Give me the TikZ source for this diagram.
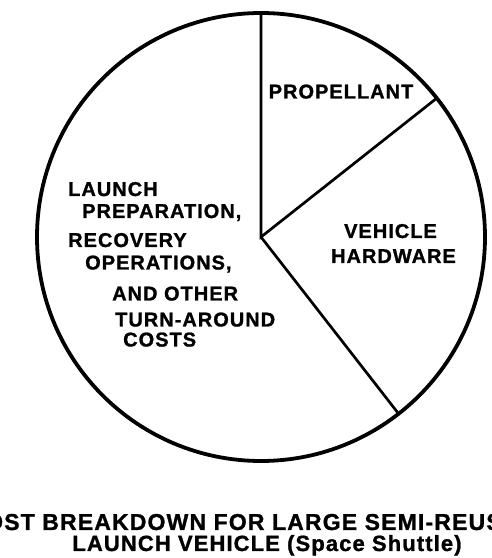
\documentclass[tikz,border=0pt]{standalone}
\usepackage{fontspec}
\setmainfont{Liberation Sans}
\newfontfamily\labfont[LetterSpace=5,FakeBold=1.2]{Liberation Sans}
\begin{document}
\begin{tikzpicture}[x=1pt,y=1pt,
  lab/.style={font=\labfont\bfseries\fontsize{20}{24}\selectfont, inner sep=0pt},
  captext/.style={font=\labfont\bfseries\fontsize{22}{26}\selectfont, inner sep=0pt},
  capbig/.style={font=\labfont\bfseries\fontsize{23}{27}\selectfont, inner sep=0pt},
  rim/.style={line width=3.8pt},
  radiusline/.style={line width=2.7pt}]
\useasboundingbox (0,0) rectangle (491,558);
\coordinate (O) at (261,321);
\coordinate (A) at ([shift={(90:224)}]O);
\coordinate (B) at ([shift={(38.3:224)}]O);
\coordinate (C) at ([shift={(-52.1:224)}]O);
\draw[rim] (O) circle[radius=224];
\draw[radiusline] (A) -- (O) -- (B);
\draw[radiusline] (O) -- (C);
% slice labels
\node[lab, anchor=base] (prop) at (341,459.5) {PROPELLANT};
\node[lab, anchor=base] (veh) at (390.5,320) {VEHICLE};
\node[lab, anchor=base] (hw) at (393.5,295) {HARDWARE};
\node[lab, anchor=base west] (l1) at (68,362) {LAUNCH};
\node[lab, anchor=base west] (l2) at (82,340) {PREPARATION,};
\node[lab, anchor=base west] (l3) at (68,311) {RECOVERY};
\node[lab, anchor=base west] (l4) at (85,288.5) {OPERATIONS,};
\node[lab, anchor=base west] (l5) at (112,257.5) {AND OTHER};
\node[lab, anchor=base west] (l6) at (115,231.5) {TURN-AROUND};
\node[lab, anchor=base west] (l7) at (123,211.5) {COSTS};
% caption
\node[capbig, anchor=base west] (t1) at (-15,28) {OST BREAKDOWN FOR LARGE SEMI-REUS};
\node[captext, anchor=base] (t2) at (267,7) {LAUNCH VEHICLE (Space Shuttle)};
\end{tikzpicture}
\end{document}
